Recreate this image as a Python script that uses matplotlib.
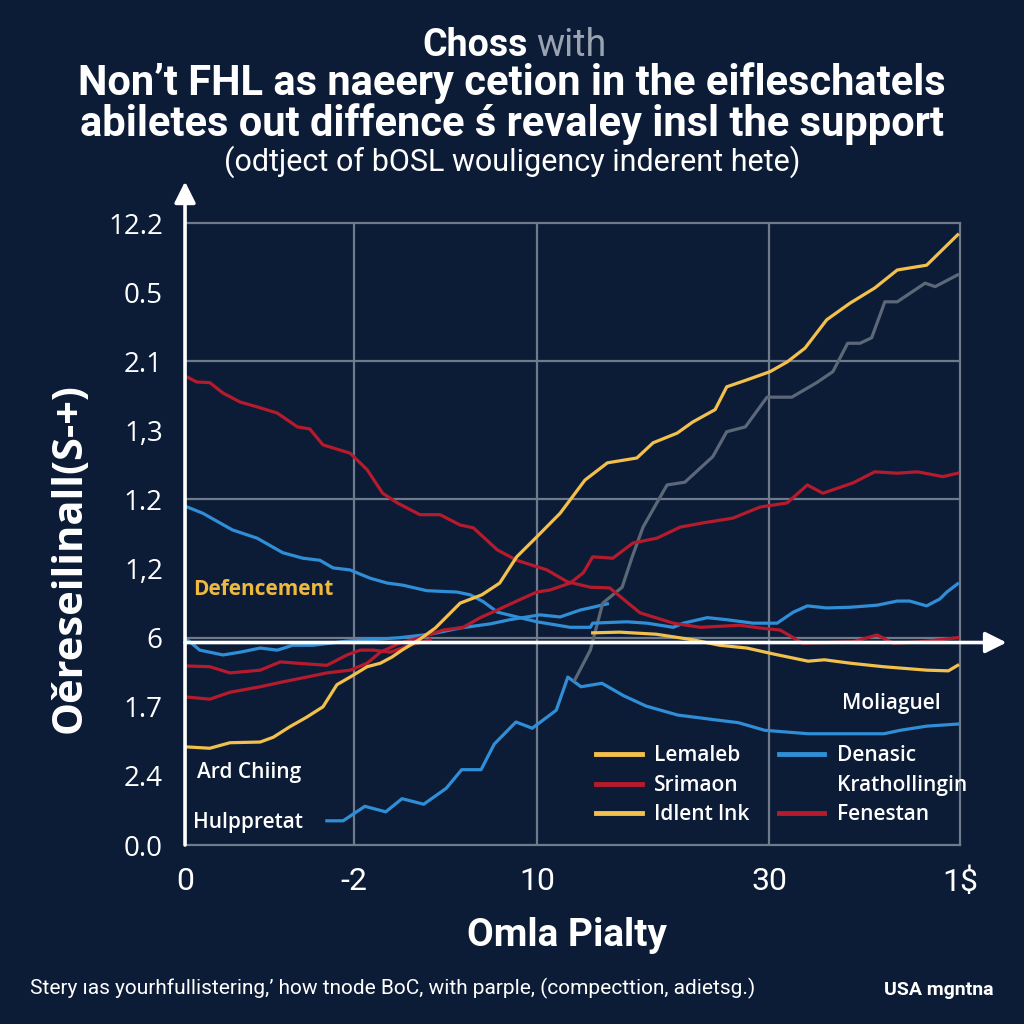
import matplotlib
matplotlib.use("Agg")
import matplotlib.pyplot as plt
from matplotlib.lines import Line2D

# ---- data (x: 0..100 across the frame, y: tick index 0..9) ----
x_ticks = [0, 21.8, 45.4, 75.4, 100]
x_labels = ["0", "-2", "10", "30", r"1\$"]
y_ticks = [0, 1, 2, 3, 4, 5, 6, 7, 8, 9]
y_labels = ["0.0", "2.4", "1.7", "6", "1,2", "1.2", "1,3", "2.1", "0.5", "12.2"]

lemaleb_x = [0.1, 3.2, 5.8, 9.7, 11.4, 13.5, 15.7, 17.8, 19.6, 21.3, 23.5, 25.2, 26.7, 28.0,
             30.2, 32.3, 35.5, 38.3, 40.6, 42.8, 45.4, 48.4, 51.6, 54.5, 58.3, 60.4, 63.5,
             65.5, 68.4, 69.9, 72.5, 75.5, 77.7, 80.0, 82.8, 85.8, 89.0, 91.9, 93.5, 95.7, 99.7]
lemaleb_y = [1.42, 1.40, 1.48, 1.49, 1.56, 1.71, 1.85, 2.00, 2.32, 2.43, 2.58, 2.63, 2.72, 2.82,
             2.97, 3.14, 3.50, 3.62, 3.79, 4.17, 4.46, 4.80, 5.28, 5.53, 5.60, 5.82, 5.96,
             6.12, 6.30, 6.63, 6.73, 6.85, 6.99, 7.19, 7.60, 7.84, 8.06, 8.32, 8.35, 8.39, 8.83]

krath_x = [50.3, 52.3, 53.9, 56.4, 57.7, 59.1, 62.2, 64.5, 68.1, 69.9, 72.3, 75.1, 78.3, 81.5,
           83.6, 85.5, 87.1, 88.6, 90.3, 91.9, 95.5, 96.8, 99.7]
krath_y = [2.39, 2.82, 3.50, 3.73, 4.17, 4.60, 5.21, 5.25, 5.62, 5.98, 6.05, 6.48, 6.48, 6.69,
           6.85, 7.26, 7.26, 7.34, 7.86, 7.86, 8.13, 8.08, 8.25]

srimaon_x = [0.3, 1.5, 3.2, 4.9, 7.1, 9.3, 11.9, 14.5, 16.1, 17.8, 21.3, 23.5, 25.5, 27.4, 30.3,
             32.9, 35.5, 37.2, 40.3, 42.8, 46.7, 49.3, 52.3, 54.8, 58.7, 63.0, 66.5, 71.6, 74.2,
             76.8, 79.7, 86.2, 89.3, 91.4, 94.8, 97.4, 99.7]
srimaon_y = [6.77, 6.70, 6.69, 6.54, 6.41, 6.34, 6.25, 6.05, 6.02, 5.79, 5.67, 5.43, 5.09, 4.95,
             4.78, 4.78, 4.63, 4.59, 4.27, 4.12, 3.98, 3.81, 3.73, 3.72, 3.36, 3.21, 3.15, 3.18,
             3.14, 3.11, 2.92, 2.94, 3.04, 2.92, 2.94, 2.97, 3.00]

fenestan_x = [0.3, 3.2, 5.8, 9.7, 12.6, 15.7, 18.3, 21.3, 23.5, 25.2, 27.7, 30.3, 33.3, 35.9,
              38.1, 40.3, 43.2, 45.4, 47.1, 49.7, 51.4, 52.6, 55.2, 57.8, 60.9, 63.9, 66.8,
              70.7, 74.2, 77.7, 80.3, 82.3, 86.2, 89.0, 91.9, 94.5, 97.8, 99.7]
fenestan_y = [2.14, 2.11, 2.21, 2.29, 2.36, 2.43, 2.49, 2.53, 2.63, 2.79, 2.92, 3.00, 3.11, 3.15,
              3.29, 3.40, 3.55, 3.66, 3.69, 3.79, 3.94, 4.17, 4.15, 4.37, 4.44, 4.60, 4.66,
              4.73, 4.89, 4.95, 5.21, 5.09, 5.24, 5.40, 5.38, 5.40, 5.33, 5.38]

red_short_x = [0.3, 3.2, 5.8, 9.7, 12.3, 14.5, 18.3, 20.9, 22.6, 24.3, 26.5, 29.0, 31.6]
red_short_y = [2.59, 2.58, 2.49, 2.53, 2.65, 2.63, 2.60, 2.75, 2.82, 2.82, 2.79, 2.89, 2.97]

denasic_x = [0.3, 2.3, 6.1, 9.3, 12.6, 15.2, 17.4, 19.1, 21.3, 23.9, 26.1, 28.1, 31.2, 35.1,
             36.8, 38.5, 40.3, 43.2, 45.4, 49.7, 52.3, 52.6, 57.0, 59.6, 63.0, 64.3, 67.4,
             69.9, 73.3, 76.4, 78.5, 80.3, 82.8, 85.8, 89.3, 91.9, 93.5, 95.7, 97.4, 98.3, 99.7]
denasic_y = [4.89, 4.80, 4.56, 4.44, 4.23, 4.15, 4.12, 4.01, 3.98, 3.86, 3.79, 3.76, 3.68, 3.66,
             3.62, 3.52, 3.37, 3.29, 3.23, 3.15, 3.15, 3.21, 3.23, 3.21, 3.15, 3.21, 3.29,
             3.26, 3.21, 3.21, 3.37, 3.46, 3.43, 3.44, 3.47, 3.53, 3.53, 3.46, 3.56, 3.66, 3.78]

blue_low_x = [0.3, 1.9, 4.9, 7.1, 9.7, 11.9, 13.9, 16.5, 18.7, 20.9, 23.5, 25.2, 27.7, 31.6,
              35.5, 39.4, 41.9, 45.8, 48.4, 51.0, 52.6, 54.5]
blue_low_y = [2.97, 2.82, 2.75, 2.79, 2.85, 2.82, 2.89, 2.89, 2.92, 2.95, 2.97, 2.98, 3.00, 3.05,
              3.14, 3.20, 3.26, 3.33, 3.30, 3.40, 3.44, 3.49]

blue_rise_x = [18.3, 20.4, 23.2, 25.9, 28.0, 30.8, 33.7, 35.7, 38.2, 39.9, 42.7, 44.8, 47.9,
               49.4, 51.1, 53.8, 56.6, 59.5, 63.6, 68.5, 71.4, 74.8, 80.4, 85.3, 90.2, 92.3,
               95.7, 99.7]
blue_rise_y = [0.35, 0.35, 0.56, 0.48, 0.67, 0.59, 0.82, 1.09, 1.09, 1.46, 1.78, 1.69, 1.95,
               2.43, 2.29, 2.34, 2.16, 2.01, 1.88, 1.81, 1.77, 1.66, 1.61, 1.61, 1.61, 1.66,
               1.72, 1.75]

idlent_x = [52.6, 56.1, 60.8, 65.5, 69.0, 72.5, 76.1, 80.4, 82.5, 85.9, 90.1, 95.7, 98.5, 99.7]
idlent_y = [3.07, 3.08, 3.05, 2.97, 2.89, 2.85, 2.76, 2.66, 2.68, 2.63, 2.58, 2.53, 2.52, 2.60]

legend_labels = ["Lemaleb", "Srimaon", "Idlent lnk", "Denasic", "Krathollingin", "Fenestan"]

BG = "#0c1c37"
YEL = "#f3c04c"
RED = "#b51b2c"
BLUE = "#2f8ed6"
GRAY = "#5c6778"
GRID = "#6f7a8b"
NARROW = ["Roboto", "DejaVu Sans"]
SANS = ["Open Sans", "DejaVu Sans"]

fig = plt.figure(figsize=(10.24, 10.24), dpi=100, facecolor=BG)
ax = fig.add_axes([0.1807, 0.1748, 0.7568, 0.6074])
ax.set_facecolor(BG)
ax.set_xlim(0, 100)
ax.set_ylim(0, 9)

# grid and frame
for gx in x_ticks[1:4]:
    ax.axvline(gx, color=GRID, lw=1.6, zorder=1)
for gy in [3, 5, 7]:
    ax.axhline(gy, color=GRID, lw=1.6, zorder=1)
for side in ["top", "right", "bottom"]:
    ax.spines[side].set_color(GRID)
    ax.spines[side].set_linewidth(1.6)
ax.spines["left"].set_visible(False)

lw = 2.3
ax.plot(blue_rise_x, blue_rise_y, color=BLUE, lw=lw, zorder=3)
ax.plot(blue_low_x, blue_low_y, color=BLUE, lw=lw, zorder=3)
ax.plot(red_short_x, red_short_y, color=RED, lw=lw, zorder=3)
ax.plot(krath_x, krath_y, color=GRAY, lw=lw, zorder=3)
ax.plot(denasic_x, denasic_y, color=BLUE, lw=lw, zorder=3)
ax.plot(fenestan_x, fenestan_y, color=RED, lw=lw, zorder=3)
ax.plot(srimaon_x, srimaon_y, color=RED, lw=lw, zorder=3)
ax.plot(idlent_x, idlent_y, color=YEL, lw=lw, zorder=3)
ax.plot(lemaleb_x, lemaleb_y, color=YEL, lw=lw, zorder=4)

# white axis arrows
arrow = dict(arrowstyle="-|>", color="white", lw=2.6, mutation_scale=32, shrinkA=0, shrinkB=0)
ax.annotate("", xy=(0, 9.6), xytext=(0, 0), arrowprops=arrow, annotation_clip=False, zorder=6)
ax.annotate("", xy=(106, 2.93), xytext=(0, 2.93), arrowprops=arrow, annotation_clip=False, zorder=6)

ax.set_xticks(x_ticks)
ax.set_xticklabels(x_labels, family=NARROW, fontsize=23, color="white")
ax.set_yticks(y_ticks)
ax.set_yticklabels(y_labels, family=SANS, fontsize=20, color="white")
ax.tick_params(length=0)
ax.tick_params(axis="x", pad=16)
ax.tick_params(axis="y", pad=16)

# in-plot labels
ax.text(1.0, 3.69, "Defencement", color="#efb93f", fontsize=15, fontweight="bold", family=SANS,
        va="center", ha="left")
ax.text(1.5, 1.05, "Ard Chiing", color="white", fontsize=15, fontweight="semibold", family=SANS,
        va="center", ha="left")
ax.text(1.0, 0.33, "Hulppretat", color="white", fontsize=15, fontweight="semibold", family=SANS,
        va="center", ha="left")
ax.text(97.5, 2.05, "Moliaguel", color="white", fontsize=15, fontweight="semibold", family=SANS,
        va="center", ha="right")

handles = [Line2D([], [], color=YEL, lw=3.5), Line2D([], [], color=RED, lw=3.5),
           Line2D([], [], color=YEL, lw=3.5), Line2D([], [], color=BLUE, lw=3.5),
           Line2D([], [], color=BG, lw=3.5), Line2D([], [], color=RED, lw=3.5)]
leg = ax.legend(handles, legend_labels, ncol=2, frameon=False, loc="upper left",
                bbox_to_anchor=(0.53, 0.16), borderaxespad=0, borderpad=0,
                handlelength=2.2, handletextpad=0.6, columnspacing=1.4, labelspacing=0.4,
                prop={"family": SANS, "size": 15, "weight": "semibold"})
for t in leg.get_texts():
    t.set_color("white")

# titles and outer text
fig.text(528 / 1024, 1 - 45 / 1024, "Choss", color="white", fontsize=27, fontweight="bold",
         family=NARROW, ha="right", va="center")
fig.text(536 / 1024, 1 - 45 / 1024, "with", color="#9aa3b0", fontsize=27,
         family=NARROW, ha="left", va="center")
fig.text(0.5, 1 - 83 / 1024, "Non\u2019t FHL as naeery cetion in the eifleschatels", color="white",
         fontsize=30, fontweight="bold", family=NARROW, ha="center", va="center")
fig.text(0.5, 1 - 124 / 1024, "abiletes out diffence \u015b revaley insl the support", color="white",
         fontsize=30, fontweight="bold", family=NARROW, ha="center", va="center")
fig.text(0.5, 1 - 162 / 1024, "(odtject of bOSL wouligency inderent hete)", color="white",
         fontsize=22, family=NARROW, ha="center", va="center")

fig.text(70 / 1024, 1 - 558 / 1024, "O\u011breseilinall(S-+)", color="white", fontsize=30,
         fontweight="bold", family=SANS, rotation=90, ha="center", va="center")
fig.text(567 / 1024, 1 - 935 / 1024, "Omla Pialty", color="white", fontsize=28,
         fontweight="bold", family=NARROW, ha="center", va="center")
fig.text(30 / 1024, 1 - 988 / 1024,
         "Stery \u0131as yourhfullistering,\u2019 how tnode BoC, with parple, (compecttion, adietsg.)",
         color="white", fontsize=15, family=NARROW, ha="left", va="center")
fig.text(993 / 1024, 1 - 990 / 1024, "USA mgntna", color="white", fontsize=14,
         fontweight="bold", family=NARROW, ha="right", va="center")

fig.savefig("out.png", dpi=100, facecolor=BG)
